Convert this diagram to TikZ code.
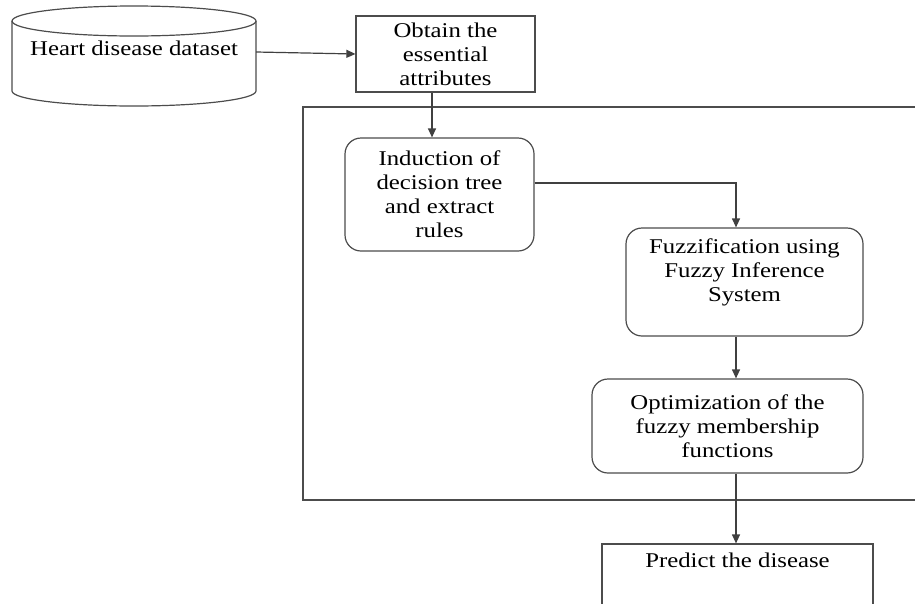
\documentclass[tikz,border=0pt]{standalone}
\usepackage{fontspec}
\setmainfont{Liberation Serif}[FakeStretch=1.18]
\usetikzlibrary{arrows.meta}
\begin{document}
\begin{tikzpicture}[x=1pt,y=-1pt]
\tikzstyle{every node}=[font=\fontsize{21}{24}\selectfont,align=center];
\tikzstyle{line}=[draw=black!70,line width=1.2pt];
\tikzstyle{box}=[line,rectangle,inner sep=0pt];
\tikzstyle{rbox}=[box,rounded corners=16pt];
\tikzstyle{arr}=[line width=1.2pt,draw=black!75,-{Triangle[length=9pt,width=8pt]}];
\useasboundingbox (0,0) rectangle (915,603);
\clip (0,0) rectangle (915,603);
\draw [line] (303,107) rectangle (940,500); % frame
\coordinate (axis) at (736,0);
% dataset drum
\draw [line] (12,21) -- (12,91) arc (180:0:122 and 15) -- (256,21);
\draw [line] (134,21) ellipse (122 and 15);
\node [inner sep=0pt,minimum width=244pt,minimum height=100pt] (data) at (134,56) {};
\node (datatxt) at (134,48) {Heart disease dataset};
\node [box,minimum width=179pt,minimum height=76pt] (obtain) at (445.5,54) {Obtain the\\essential\\attributes};
\node [rbox,minimum width=189pt,minimum height=113pt] (induct) at (439.5,194.5) {Induction of\\decision tree\\and extract\\rules};
\node [rbox,minimum width=237pt,minimum height=108pt] (fuzz) at (744.5,282) {};
\node (fuzztxt) at (744.5,272) {Fuzzification using\\Fuzzy Inference\\System};
\node [rbox,minimum width=271pt,minimum height=94pt] (optim) at (727.5,426) {Optimization of the\\fuzzy membership\\functions};
\node [box,minimum width=271pt,minimum height=100pt] (predict) at (737.5,594) {};
\node (predtxt) at (737.5,560) {Predict the disease};
\draw [arr] ([yshift=4pt]data.east) -- (obtain.west); % flow
\draw [arr] ([xshift=-13.5pt]obtain.south) -- ([xshift=-13.5pt]obtain.south |- induct.north);
\draw [arr] ([yshift=11.5pt]induct.east) -| (axis |- fuzz.north);
\draw [arr] (axis |- fuzz.south) -- (axis |- optim.north);
\draw [arr] (axis |- optim.south) -- (axis |- predict.north);
\end{tikzpicture}
\end{document}
